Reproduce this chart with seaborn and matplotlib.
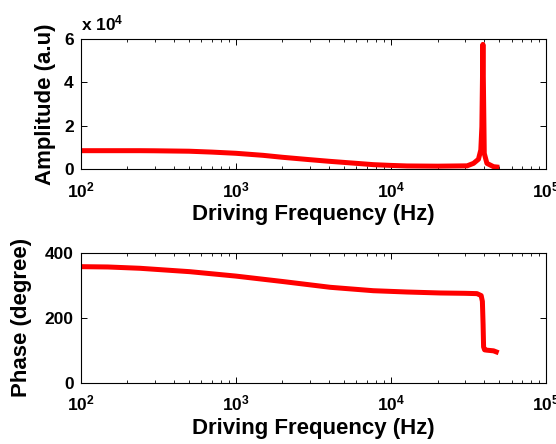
import numpy as np
import pandas as pd
import matplotlib
matplotlib.use("Agg")
import matplotlib.pyplot as plt
from matplotlib.ticker import FixedLocator, FixedFormatter, LogLocator, NullFormatter
import seaborn as sns

# Amplitude response (a.u.) versus driving frequency (Hz)
amp_freq = [100, 150, 240, 300, 500, 700, 1000, 1500, 2000, 3000, 4000, 6000,
            7700, 10000, 12700, 20000, 31000, 34100, 36700, 38000, 38600,
            39200, 40000, 41600, 45900, 50000]
amp_vals = [8450, 8450, 8450, 8400, 8200, 7800, 7250, 6300, 5400, 4300, 3550,
            2600, 2000, 1650, 1400, 1300, 1450, 2600, 4500, 8800, 19500,
            57500, 7200, 2600, 1060, 780]

# Phase response (degree) versus driving frequency (Hz)
ph_freq = [100, 150, 241, 507, 1000, 2030, 4060, 7700, 12700, 20800, 30000,
           35900, 38200, 38900, 39300, 39600, 40200, 41600, 45900, 49500]
ph_vals = [357, 356, 352, 341.5, 328, 311, 293.5, 283, 279, 276, 275,
           274, 268, 250, 180, 110, 101, 100, 98, 92]

amp_ticks = [0, 2e4, 4e4, 6e4]
amp_tick_labels = ["0", "2", "4", "6"]
ph_ticks = [0, 200, 400]
ph_tick_labels = ["0", "200", "400"]
x_ticks = [1e2, 1e3, 1e4, 1e5]
x_tick_labels = [r"$\mathbf{10^{2}}$", r"$\mathbf{10^{3}}$",
                 r"$\mathbf{10^{4}}$", r"$\mathbf{10^{5}}$"]

sns.set_style("ticks")
plt.rcParams["font.family"] = ["Liberation Sans", "DejaVu Sans"]
plt.rcParams["font.weight"] = "bold"
plt.rcParams["text.color"] = "black"
plt.rcParams["axes.labelcolor"] = "black"
plt.rcParams["xtick.color"] = "black"
plt.rcParams["ytick.color"] = "black"
plt.rcParams["mathtext.fontset"] = "custom"
plt.rcParams["mathtext.rm"] = "Liberation Sans:bold"
plt.rcParams["mathtext.bf"] = "Liberation Sans:bold"
plt.rcParams["mathtext.it"] = "Liberation Sans:bold"

amp_df = pd.DataFrame({"freq": amp_freq, "amp": amp_vals})
ph_df = pd.DataFrame({"freq": ph_freq, "phase": ph_vals})

fig = plt.figure(figsize=(5.56, 4.44), dpi=100)
ax1 = fig.add_axes([0.1451, 0.6194, 0.8369, 0.2928])
ax2 = fig.add_axes([0.1451, 0.1381, 0.8369, 0.2928])

sns.lineplot(data=amp_df, x="freq", y="amp", ax=ax1, color="#ff0000",
             lw=3.6, solid_capstyle="butt", estimator=None, sort=False)
sns.lineplot(data=ph_df, x="freq", y="phase", ax=ax2, color="#ff0000",
             lw=3.6, solid_capstyle="butt", estimator=None, sort=False)


def style_axis(ax, yticks, ylabels, ylim, ylabel, ylabelpad):
    ax.set_xscale("log")
    ax.set_xlim(1e2, 1e5)
    ax.set_ylim(*ylim)
    ax.xaxis.set_major_locator(FixedLocator(x_ticks))
    ax.xaxis.set_major_formatter(FixedFormatter(x_tick_labels))
    ax.xaxis.set_minor_locator(LogLocator(base=10, subs=np.arange(2, 10)))
    ax.xaxis.set_minor_formatter(NullFormatter())
    ax.yaxis.set_major_locator(FixedLocator(yticks))
    ax.yaxis.set_major_formatter(FixedFormatter(ylabels))
    ax.tick_params(which="major", direction="in", length=4, width=0.7,
                   top=True, right=True, labelsize=12.5, colors="black", pad=5)
    ax.tick_params(which="minor", direction="in", length=2.5, width=0.6,
                   top=True, right=True)
    ax.tick_params(axis="x", which="major", pad=8)
    for s in ax.spines.values():
        s.set_visible(True)
        s.set_linewidth(0.8)
        s.set_color("black")
    for lab in ax.get_yticklabels():
        lab.set_fontweight("bold")
    ax.set_xlabel("Driving Frequency (Hz)", fontsize=16, fontweight="bold",
                  labelpad=3)
    ax.set_ylabel(ylabel, fontsize=16, fontweight="bold", labelpad=ylabelpad)


style_axis(ax1, amp_ticks, amp_tick_labels, (0, 6e4), "Amplitude (a.u)", 6)
style_axis(ax2, ph_ticks, ph_tick_labels, (0, 400), "Phase (degree)", 9)

ax1.text(0.0, 1.04, r"x $\mathbf{10^{4}}$", transform=ax1.transAxes,
         fontsize=12.5, fontweight="bold", ha="left", va="bottom")

fig.savefig("out.png", dpi=100)
